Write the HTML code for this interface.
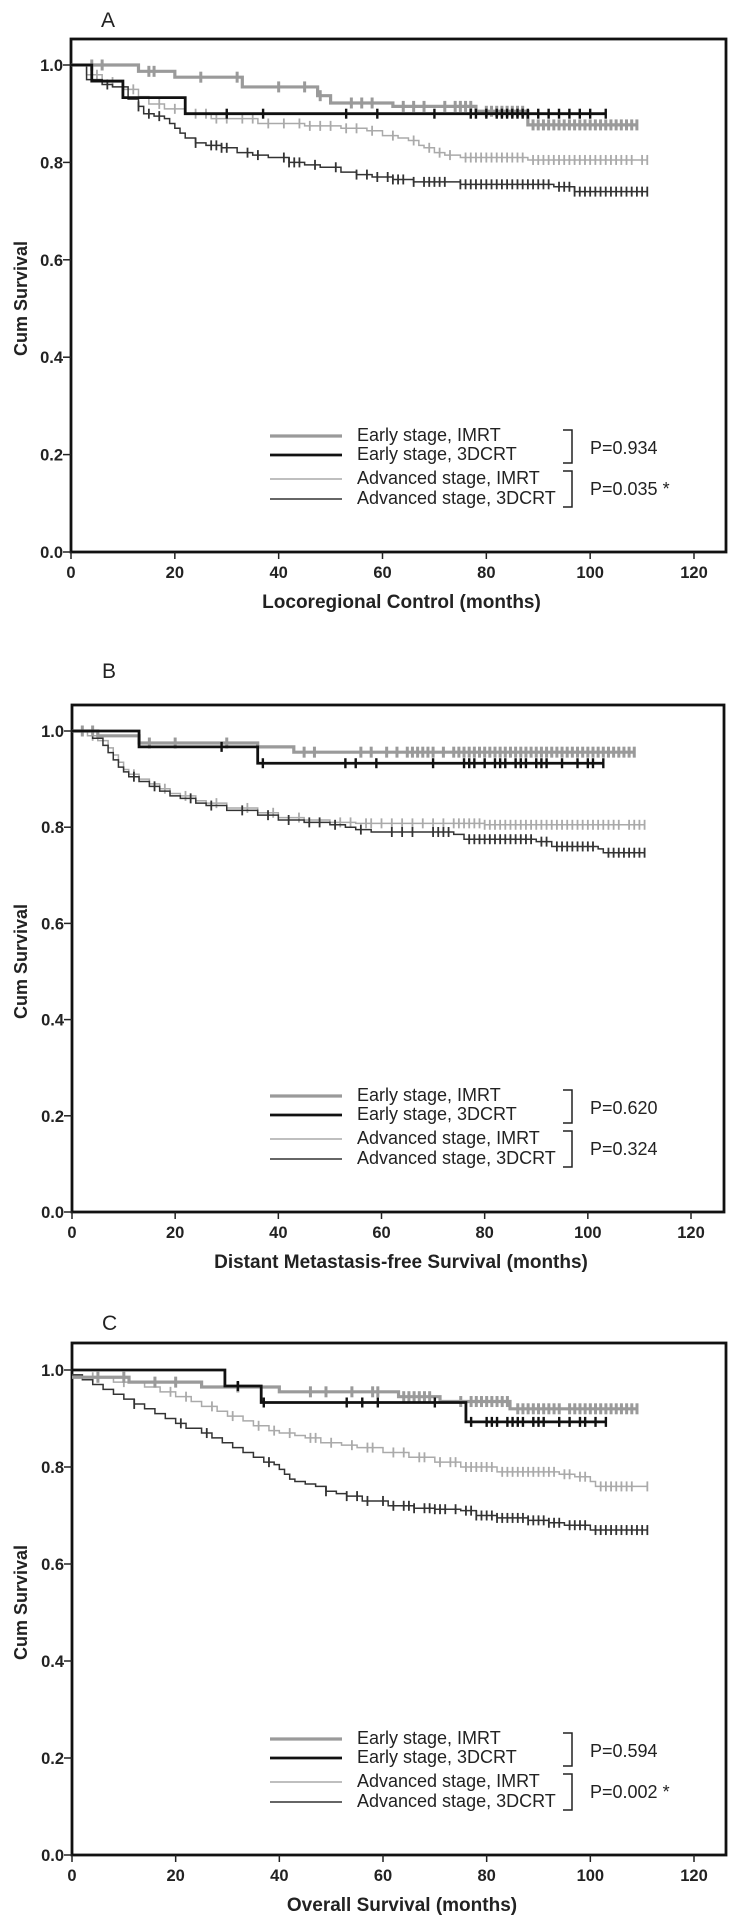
<!DOCTYPE html>
<html><head><meta charset="utf-8"><style>
html,body{margin:0;padding:0;background:#fff;}
svg{display:block;}
.tick{font-family:"Liberation Sans Narrow","Liberation Sans",sans-serif;font-weight:bold;font-size:16.5px;fill:#222;}
.atitle{font-family:"Liberation Sans",sans-serif;font-weight:bold;font-size:19px;fill:#222;}
.ytitle{font-family:"Liberation Sans",sans-serif;font-weight:bold;font-size:18px;fill:#222;}
.leg{font-family:"Liberation Sans",sans-serif;font-size:18px;fill:#222;}
.plab{font-family:"Liberation Sans",sans-serif;font-size:21px;fill:#222;}
</style></head><body>
<svg id="chart" width="729" height="1915" viewBox="0 0 729 1915" xmlns="http://www.w3.org/2000/svg"></svg>
<script>
// ---------- data ----------
const xTicks = [0,20,40,60,80,100,120];
const yTicks = [0.0,0.2,0.4,0.6,0.8,1.0];
const yTickLabels = ["0.0","0.2","0.4","0.6","0.8","1.0"];
const seriesNames = ["Early stage, IMRT","Early stage, 3DCRT","Advanced stage, IMRT","Advanced stage, 3DCRT"];
const panelLetters = ["A","B","C"];
const panelTitles = ["Locoregional Control (months)","Distant Metastasis-free Survival (months)","Overall Survival (months)"];
const pValuesEarly = ["P=0.934","P=0.620","P=0.594"];
const pValuesAdv = ["P=0.035 *","P=0.324","P=0.002 *"];

// Panel A
const aEarlyImrtT = [0,13,20,33,47.5,50,62,78,88];
const aEarlyImrtS = [1.0,0.987,0.975,0.955,0.937,0.922,0.915,0.905,0.877];
const aEarlyImrtEnd = 109;
const aEarlyImrtC = [4,6,15,16,25,32,40,45,48,54,56,58,64,66,68,72,74,75,76,77,80,81,82,83,84,85,86,87,89,90,91,92,93,94,95,96,97,98,99,100,101,102,103,104,105,106,107,108,109];
const aEarly3dT = [0,4,10,22];
const aEarly3dS = [1.0,0.967,0.933,0.9];
const aEarly3dEnd = 103;
const aEarly3dC = [30,37,53,59,70,77,78,80,82,83,84,85,86,87,88,90,92,94,96,98,100,103];
const aAdvImrtT = [0,3,6,10,13,15,18,22,27,36,45,52,57,60,63,65,67,68,70,72,75,88];
const aAdvImrtS = [1.0,0.98,0.965,0.95,0.935,0.92,0.91,0.9,0.89,0.88,0.875,0.87,0.865,0.855,0.85,0.845,0.835,0.83,0.82,0.815,0.81,0.805];
const aAdvImrtEnd = 111;
const aAdvImrtC = [5,8,12,17,20,24,26,28,30,33,35,38,41,44,46,48,50,53,55,58,62,66,69,71,73,76,77,78,79,80,81,82,83,84,85,86,87,89,90,91,92,93,94,95,96,97,98,99,100,101,102,103,104,105,106,107,108,110,111];
const aAdv3dT = [0,3,6,8,11,13,14,16,18,19,20,21,22,24,26,29,32,35,38,42,45,48,52,55,58,62,66,75,93,97];
const aAdv3dS = [1.0,0.97,0.96,0.955,0.93,0.915,0.9,0.895,0.89,0.88,0.87,0.86,0.85,0.84,0.835,0.83,0.82,0.815,0.81,0.8,0.795,0.79,0.78,0.775,0.77,0.765,0.76,0.755,0.75,0.74];
const aAdv3dEnd = 111;
const aAdv3dC = [7,10,13,15,17,24,27,28,29,30,34,36,41,42,43,44,47,51,55,57,59,61,62,63,64,66,68,69,70,71,72,75,76,77,78,79,80,81,82,83,84,85,86,87,88,89,90,91,92,94,95,96,97,98,99,100,101,102,103,104,105,106,107,108,109,110,111];

// Panel B
const bEarlyImrtT = [0,5,13,36,43];
const bEarlyImrtS = [1.0,0.99,0.975,0.967,0.956];
const bEarlyImrtEnd = 109;
const bEarlyImrtC = [2,4,15,20,30,45,47,56,58,61,63,65,66,67,68,69,70,72,74,75,76,77,78,79,80,81,82,83,84,85,86,87,88,89,90,91,92,93,94,95,96,97,98,99,100,101,102,103,104,105,106,107,108,109];
const bEarly3dT = [0,13,36];
const bEarly3dS = [1.0,0.967,0.933];
const bEarly3dEnd = 103;
const bEarly3dC = [29,37,53,55,59,70,76,77,78,80,82,83,84,86,87,88,90,91,92,95,98,100,101,103];
const bAdvImrtT = [0,3,5,7,8,9,10,11,13,15,17,19,21,24,26,30,36,40,45,50,55,80];
const bAdvImrtS = [1.0,0.99,0.98,0.965,0.95,0.935,0.92,0.91,0.9,0.89,0.88,0.87,0.865,0.855,0.85,0.84,0.83,0.82,0.815,0.81,0.808,0.805];
const bAdvImrtEnd = 111;
const bAdvImrtC = [4,12,18,22,28,34,39,44,52,54,57,58,60,62,64,66,68,70,72,74,75,76,77,78,79,80,81,82,83,84,85,86,87,88,89,90,91,92,93,94,95,96,97,98,99,100,101,102,103,104,105,106,108,109,110,111];
const bAdv3dT = [0,4,6,7,8,9,10,11,13,15,17,19,21,24,26,30,36,40,45,50,53,55,58,74,76,90,93,102,103];
const bAdv3dS = [1.0,0.985,0.97,0.955,0.94,0.925,0.915,0.905,0.895,0.885,0.875,0.865,0.86,0.85,0.845,0.835,0.825,0.815,0.81,0.805,0.8,0.795,0.79,0.785,0.775,0.77,0.76,0.755,0.747];
const bAdv3dEnd = 111;
const bAdv3dC = [12,16,23,27,33,38,42,46,48,51,56,62,64,66,70,71,72,73,77,78,79,80,81,82,83,84,85,86,87,88,89,91,92,94,95,96,97,98,99,100,101,104,105,106,107,108,109,110,111];

// Panel C
const cEarlyImrtT = [0,11,25,40,63,71,84.5];
const cEarlyImrtS = [0.985,0.975,0.965,0.955,0.945,0.935,0.92];
const cEarlyImrtEnd = 109;
const cEarlyImrtC = [5,10,16,20,32,46,49,54,58,59,64,65,66,67,68,69,75,77,78,79,80,81,82,83,84,86,87,88,89,90,91,92,93,94,96,97,98,99,100,101,102,103,104,105,106,107,108,109];
const cEarly3dT = [0,29.5,36.5,76];
const cEarly3dS = [1.0,0.967,0.933,0.893];
const cEarly3dEnd = 103;
const cEarly3dC = [32,37,53,56,59,70,77,80,81,82,84,85,86,87,89,90,91,94,96,98,99,101,103];
const cAdvImrtT = [0,2,8,14,17,20,23,25,28,30,33,35,38,40,43,45,48,52,55,60,65,70,75,82,94,97,100,101];
const cAdvImrtS = [0.99,0.985,0.975,0.965,0.955,0.945,0.935,0.925,0.915,0.905,0.895,0.885,0.875,0.87,0.865,0.86,0.85,0.845,0.84,0.83,0.82,0.81,0.8,0.79,0.785,0.78,0.77,0.76];
const cAdvImrtEnd = 111;
const cAdvImrtC = [4,10,19,22,27,31,36,39,42,46,47,50,54,57,58,62,64,67,68,71,73,74,76,77,78,79,80,81,83,84,85,86,87,88,89,90,91,92,93,95,96,98,99,102,103,104,105,106,107,108,111];
const cAdv3dT = [0,2,4,6,8,10,12,14,16,18,20,22,25,27,29,31,33,35,37,39,40,41,42,43,45,47,49,51,53,56,61,66,70,75,78,82,88,92,95,100];
const cAdv3dS = [0.99,0.98,0.97,0.96,0.95,0.94,0.93,0.92,0.91,0.9,0.89,0.88,0.87,0.86,0.85,0.84,0.83,0.82,0.81,0.805,0.795,0.785,0.775,0.77,0.765,0.76,0.75,0.745,0.74,0.73,0.72,0.715,0.713,0.71,0.7,0.695,0.69,0.685,0.68,0.67];
const cAdv3dEnd = 111;
const cAdv3dC = [12,21,26,38,49,53,55,57,60,62,64,65,66,68,69,70,71,72,74,76,77,78,79,80,81,82,83,84,85,86,87,88,89,90,91,92,93,94,96,97,98,99,101,102,103,104,105,106,107,108,109,110,111];

// ---------- layout ----------
const panels = [
  {top:39, y0:552, y1:65,  x0:71, x120:694, right:726, labelY:19, series:[[aEarlyImrtT,aEarlyImrtS,aEarlyImrtEnd,aEarlyImrtC],[aEarly3dT,aEarly3dS,aEarly3dEnd,aEarly3dC],[aAdvImrtT,aAdvImrtS,aAdvImrtEnd,aAdvImrtC],[aAdv3dT,aAdv3dS,aAdv3dEnd,aAdv3dC]]},
  {top:705, y0:1212, y1:731, x0:72, x120:691, right:724, labelY:670, series:[[bEarlyImrtT,bEarlyImrtS,bEarlyImrtEnd,bEarlyImrtC],[bEarly3dT,bEarly3dS,bEarly3dEnd,bEarly3dC],[bAdvImrtT,bAdvImrtS,bAdvImrtEnd,bAdvImrtC],[bAdv3dT,bAdv3dS,bAdv3dEnd,bAdv3dC]]},
  {top:1343, y0:1855, y1:1370, x0:72, x120:694, right:726, labelY:1322, series:[[cEarlyImrtT,cEarlyImrtS,cEarlyImrtEnd,cEarlyImrtC],[cEarly3dT,cEarly3dS,cEarly3dEnd,cEarly3dC],[cAdvImrtT,cAdvImrtS,cAdvImrtEnd,cAdvImrtC],[cAdv3dT,cAdv3dS,cAdv3dEnd,cAdv3dC]]}
];
const styles = [
  {stroke:"#9a9a9a", w:3.2, cw:3, ch:5.5},
  {stroke:"#111111", w:2.8, cw:2.4, ch:5},
  {stroke:"#aaaaaa", w:1.5, cw:1.8, ch:5},
  {stroke:"#333333", w:1.5, cw:1.8, ch:5}
];
const seriesKeys = ["early-imrt","early-3dcrt","advanced-imrt","advanced-3dcrt"];
const NS = "http://www.w3.org/2000/svg";
const svg = document.getElementById("chart");
function mk(tag, attrs, parent){
  const e = document.createElementNS(NS, tag);
  for (const k in attrs) e.setAttribute(k, attrs[k]);
  (parent||svg).appendChild(e);
  return e;
}
function stepVal(T,S,t){ let v=S[0]; for(let i=0;i<T.length;i++){ if(T[i]<=t) v=S[i]; } return v; }

panels.forEach((p, pi) => {
  const g = mk("g", {});
  
  
  const sx = t => p.x0 + (p.x120 - p.x0) * t / 120;
  const sy = v => p.y0 + (p.y1 - p.y0) * v;

  const lab = mk("text", {x: p.x0 + 30, y: p.labelY + 8, class: "plab"}, g);
  lab.textContent = panelLetters[pi];
  
  

  const fr = mk("rect", {x: p.x0, y: p.top, width: p.right - p.x0, height: p.y0 - p.top, fill: "none", stroke: "#111", "stroke-width": 2.8}, g);
  
  

  yTicks.forEach((v, i) => {
    const y = sy(v);
    const tl = mk("line", {x1: p.x0 - 8, x2: p.x0, y1: y, y2: y, stroke: "#222", "stroke-width": 1.5}, g);
    
    
    const tx = mk("text", {x: p.x0 - 8, y: y + 6, class: "tick", "text-anchor": "end"}, g);
    tx.textContent = yTickLabels[i];
    
    
  });
  xTicks.forEach(t => {
    const x = sx(t);
    const tl = mk("line", {x1: x, x2: x, y1: p.y0, y2: p.y0 + 7, stroke: "#222", "stroke-width": 1.5}, g);
    
    
    const tx = mk("text", {x: x, y: p.y0 + 26, class: "tick", "text-anchor": "middle"}, g);
    tx.textContent = String(t);
    
    
  });
  const xt = mk("text", {x: (p.x0 + p.right) / 2 + 3, y: p.y0 + 56, class: "atitle", "text-anchor": "middle"}, g);
  xt.textContent = panelTitles[pi];
  
  
  const ymid = (p.y0 + p.y1) / 2 - 10;
  const yt = mk("text", {x: 27, y: ymid, class: "ytitle", "text-anchor": "middle", transform: "rotate(-90 27 " + ymid + ")"}, g);
  yt.textContent = "Cum Survival";
  
  

  [2,3,0,1].forEach(si => {
    const [T, S, end, C] = p.series[si];
    const st = styles[si];
    let d = "M" + sx(T[0]) + "," + sy(S[0]);
    for (let i = 1; i < T.length; i++) {
      d += " H" + sx(T[i]) + " V" + sy(S[i]);
    }
    d += " H" + sx(end);
    const path = mk("path", {d: d, fill: "none", stroke: st.stroke, "stroke-width": st.w}, g);
    
    
    C.forEach(t => {
      const x = sx(t), y = sy(stepVal(T, S, t));
      const cm = mk("line", {x1: x, x2: x, y1: y - st.ch, y2: y + st.ch, stroke: st.stroke, "stroke-width": st.cw}, g);
      
      
    });
  });

  const rows = [-117, -98, -74, -54];
  const lg = mk("g", {}, g);
  
  
  rows.forEach((r, i) => {
    const y = p.y0 + r;
    const st = styles[i];
    const ll = mk("line", {x1: 270, x2: 342, y1: y + 1, y2: y + 1, stroke: st.stroke, "stroke-width": st.w}, lg);
    
    
    const lt = mk("text", {x: 357, y: y + 6, class: "leg"}, lg);
    lt.textContent = seriesNames[i];
    
    
  });
  const b1a = p.y0 + rows[0] - 5, b1b = p.y0 + rows[1] + 9;
  const b2a = p.y0 + rows[2] - 7, b2b = p.y0 + rows[3] + 9;
  const br1 = mk("path", {d: "M563," + b1a + " H572 V" + b1b + " H563", fill: "none", stroke: "#222", "stroke-width": 1.5}, lg);
  
  
  const br2 = mk("path", {d: "M563," + b2a + " H572 V" + b2b + " H563", fill: "none", stroke: "#222", "stroke-width": 1.5}, lg);
  
  
  const p1 = mk("text", {x: 590, y: p.y0 - 105 + 7, class: "leg"}, lg);
  p1.textContent = pValuesEarly[pi];
  
  
  const p2 = mk("text", {x: 590, y: p.y0 - 64 + 7, class: "leg"}, lg);
  p2.textContent = pValuesAdv[pi];
  
  
});
</script>
</body></html>
